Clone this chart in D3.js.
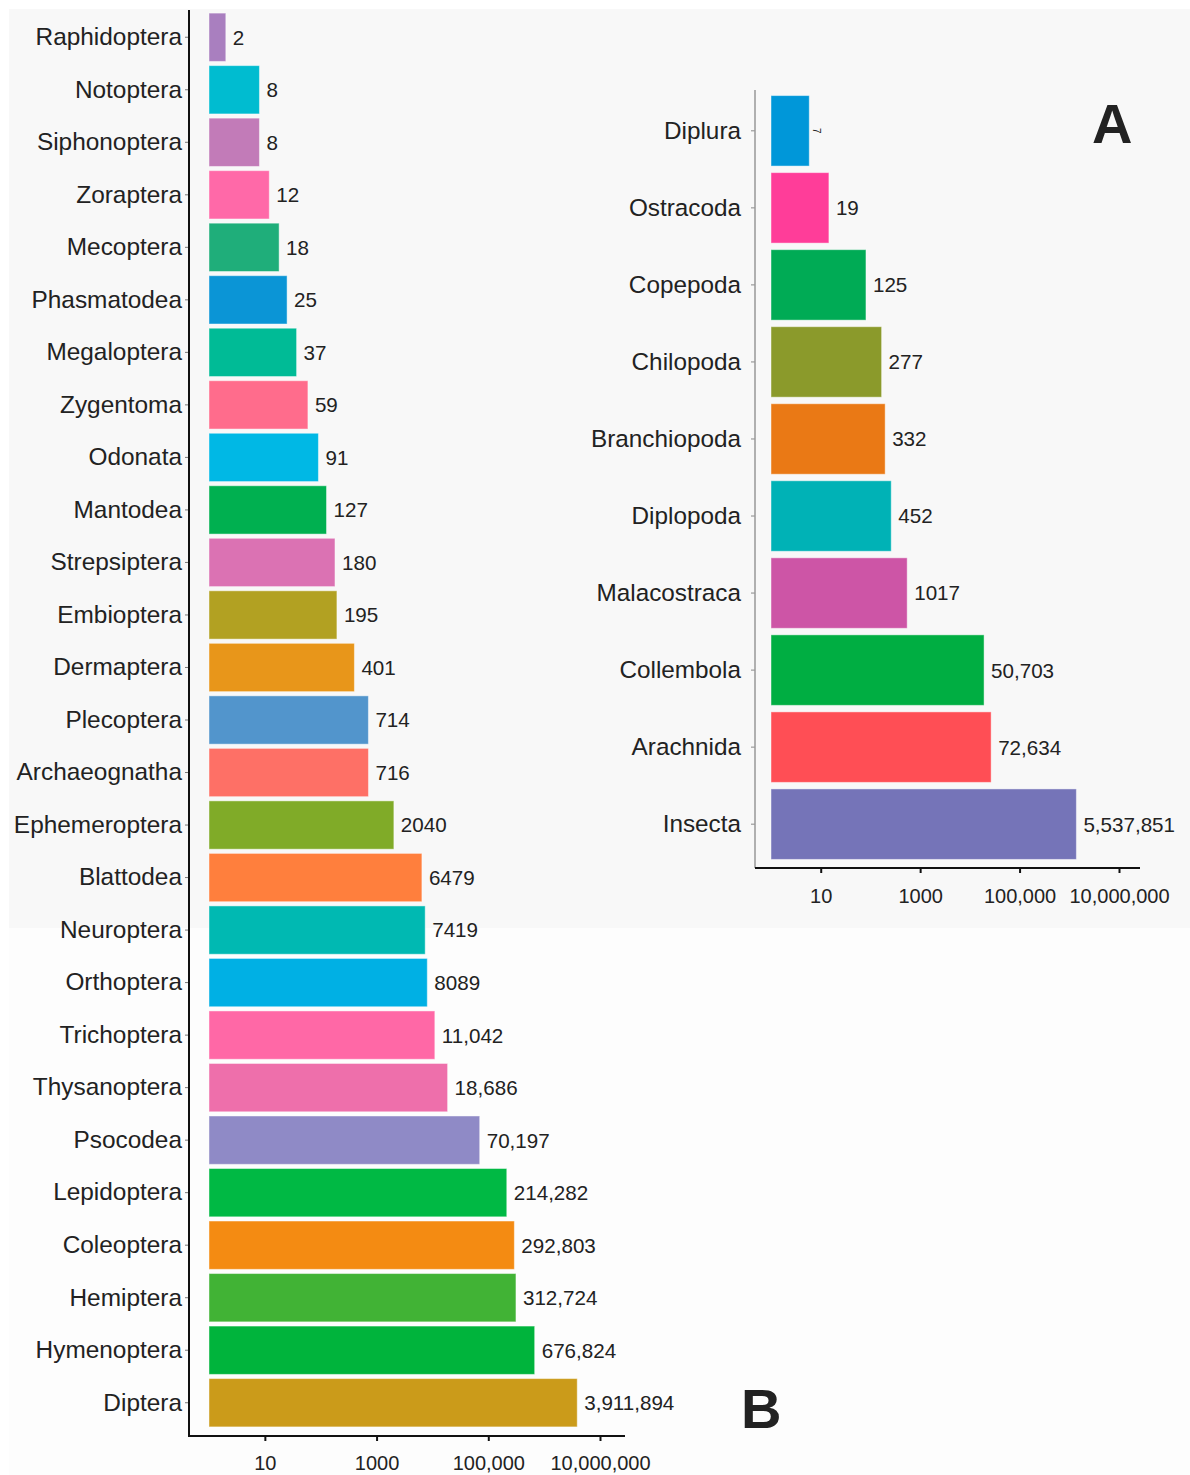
<!DOCTYPE html>
<html><head><meta charset="utf-8">
<script src="https://cdn.jsdelivr.net/npm/d3@7"></script>
<style>body{margin:0;background:#fff}svg{display:block}text{font-family:"Liberation Sans",Arial,Helvetica,sans-serif;fill:#222}</style>
</head><body><svg id="c" width="1190" height="1475"></svg>
<script>
const orderB = ["Raphidoptera","Notoptera","Siphonoptera","Zoraptera","Mecoptera","Phasmatodea","Megaloptera","Zygentoma","Odonata","Mantodea","Strepsiptera","Embioptera","Dermaptera","Plecoptera","Archaeognatha","Ephemeroptera","Blattodea","Neuroptera","Orthoptera","Trichoptera","Thysanoptera","Psocodea","Lepidoptera","Coleoptera","Hemiptera","Hymenoptera","Diptera"];
const valuesB = [2,8,8,12,18,25,37,59,91,127,180,195,401,714,716,2040,6479,7419,8089,11042,18686,70197,214282,292803,312724,676824,3911894];
const colorsB = ["#a97fbf","#00bcd0","#c27bb8","#ff69a8","#1fae7a","#0b95d6","#00bb96","#ff6c8c","#00b8e5","#00b050","#db72b3","#b2a122","#e8961a","#5295cc","#fe7066","#80ab28","#ff7f3d","#00b9b2","#00b0e4","#ff68a6","#ee6fab","#8f8ac6","#00b944","#f48b12","#41b335","#00b43c","#cb9b1a"];

const orderA = ["Diplura","Ostracoda","Copepoda","Chilopoda","Branchiopoda","Diplopoda","Malacostraca","Collembola","Arachnida","Insecta"];
const valuesA = [7,19,125,277,332,452,1017,50703,72634,5537851];
const colorsA = ["#0097d9","#ff3d99","#00ab55","#8b9a2b","#ea7915","#00b2b6","#cd55a6","#00ae42","#ff4e55","#7574b8"];

const tickValues = [10,1000,100000,10000000];

const fmt = v => v >= 10000 ? d3.format(",")(v) : String(v);
const svg = d3.select("#c");

// backgrounds
svg.append("rect").attr("x",9).attr("y",928).attr("width",1181).attr("height",547).attr("fill","#fdfdfd");
svg.append("rect").attr("x",9).attr("y",9).attr("width",1181).attr("height",919).attr("fill","#f8f8f8");

// ---------- Panel B ----------
const dataB = orderB.map((n,i)=>({name:n,value:valuesB[i],color:colorsB[i]}));
const xB = d3.scaleLog().domain([1,1e7]).range([209,600]);
const yB = d3.scaleBand().domain(orderB).range([11,1429]).paddingInner(0.08).paddingOuter(0.04);
const gB = svg.append("g");
gB.selectAll("rect.bar").data(dataB).join("rect").attr("class","bar")
  .attr("x",xB(1)).attr("y",d=>yB(d.name)).attr("width",d=>xB(d.value)-xB(1)).attr("height",yB.bandwidth())
  .attr("fill",d=>d.color).attr("stroke","rgba(255,255,255,0.45)").attr("stroke-width",1);
gB.selectAll("text.val").data(dataB).join("text").attr("class","val")
  .attr("x",d=>xB(d.value)+7).attr("y",d=>yB(d.name)+yB.bandwidth()/2).attr("dy","0.36em")
  .attr("font-size",20.6).text(d=>fmt(d.value));
// y axis
const yAxisB = gB.append("g").attr("transform","translate(189,0)").call(d3.axisLeft(yB).tickSize(4).tickPadding(3));
yAxisB.select(".domain").remove();
yAxisB.selectAll(".tick line").attr("stroke","#777");
yAxisB.selectAll(".tick text").attr("font-size",24.4).attr("fill","#222").style("font-family",'"Liberation Sans",Arial,sans-serif');
gB.append("line").attr("x1",189).attr("x2",189).attr("y1",10).attr("y2",1437).attr("stroke","#111").attr("stroke-width",2);
// x axis
const xAxisB = gB.append("g").attr("transform","translate(0,1436)").call(d3.axisBottom(xB).tickValues(tickValues).tickFormat(fmt).tickSize(5).tickPadding(15));
xAxisB.select(".domain").remove();
xAxisB.selectAll(".tick line").attr("stroke","#111").attr("stroke-width",2);
xAxisB.selectAll(".tick text").attr("font-size",20).attr("fill","#222").style("font-family",'"Liberation Sans",Arial,sans-serif');
gB.append("line").attr("x1",189).attr("x2",625).attr("y1",1436).attr("y2",1436).attr("stroke","#111").attr("stroke-width",2);
svg.append("text").attr("x",741).attr("y",1428).attr("font-size",56).attr("font-weight","bold").attr("fill","#111").text("B");

// ---------- Panel A ----------
const dataA = orderA.map((n,i)=>({name:n,value:valuesA[i],color:colorsA[i]}));
const xA = d3.scaleLog().domain([1,1e7]).range([771,1088]);
const xAaxis = d3.scaleLog().domain([1,1e7]).range([771,1119]);
const yA = d3.scaleBand().domain(orderA).range([92.5,862.5]).paddingInner(0.085).paddingOuter(0.04);
const gA = svg.append("g");
gA.selectAll("rect.bar").data(dataA).join("rect").attr("class","bar")
  .attr("x",xA(1)).attr("y",d=>yA(d.name)).attr("width",d=>xA(d.value)-xA(1)).attr("height",yA.bandwidth())
  .attr("fill",d=>d.color).attr("stroke","rgba(255,255,255,0.45)").attr("stroke-width",1);
gA.selectAll("text.val").data(dataA.filter(d=>d.name!=="Diplura")).join("text").attr("class","val")
  .attr("x",d=>xA(d.value)+7).attr("y",d=>yA(d.name)+yA.bandwidth()/2).attr("dy","0.36em")
  .attr("font-size",20.6).text(d=>fmt(d.value));
const dip = dataA[0];
gA.append("text").attr("transform",`translate(${xA(dip.value)+7},${yA(dip.name)+yA.bandwidth()/2}) rotate(90)`)
  .attr("text-anchor","middle").attr("dy","0.35em").attr("font-size",10).text(fmt(dip.value));
const yAxisA = gA.append("g").attr("transform","translate(755,0)").call(d3.axisLeft(yA).tickSize(4).tickPadding(10));
yAxisA.select(".domain").remove();
yAxisA.selectAll(".tick line").attr("stroke","#888");
yAxisA.selectAll(".tick text").attr("font-size",24.3).attr("fill","#222").style("font-family",'"Liberation Sans",Arial,sans-serif');
gA.append("line").attr("x1",755).attr("x2",755).attr("y1",90).attr("y2",868).attr("stroke","#999").attr("stroke-width",1.5);
const xAxisA = gA.append("g").attr("transform","translate(0,868)").call(d3.axisBottom(xAaxis).tickValues(tickValues).tickFormat(fmt).tickSize(5).tickPadding(16));
xAxisA.select(".domain").remove();
xAxisA.selectAll(".tick line").attr("stroke","#111").attr("stroke-width",2);
xAxisA.selectAll(".tick text").attr("font-size",20).attr("fill","#222").style("font-family",'"Liberation Sans",Arial,sans-serif');
gA.append("line").attr("x1",755).attr("x2",1140).attr("y1",868).attr("y2",868).attr("stroke","#111").attr("stroke-width",2);
svg.append("text").attr("x",1092).attr("y",143).attr("font-size",56).attr("font-weight","bold").attr("fill","#111").text("A");
</script></body></html>
